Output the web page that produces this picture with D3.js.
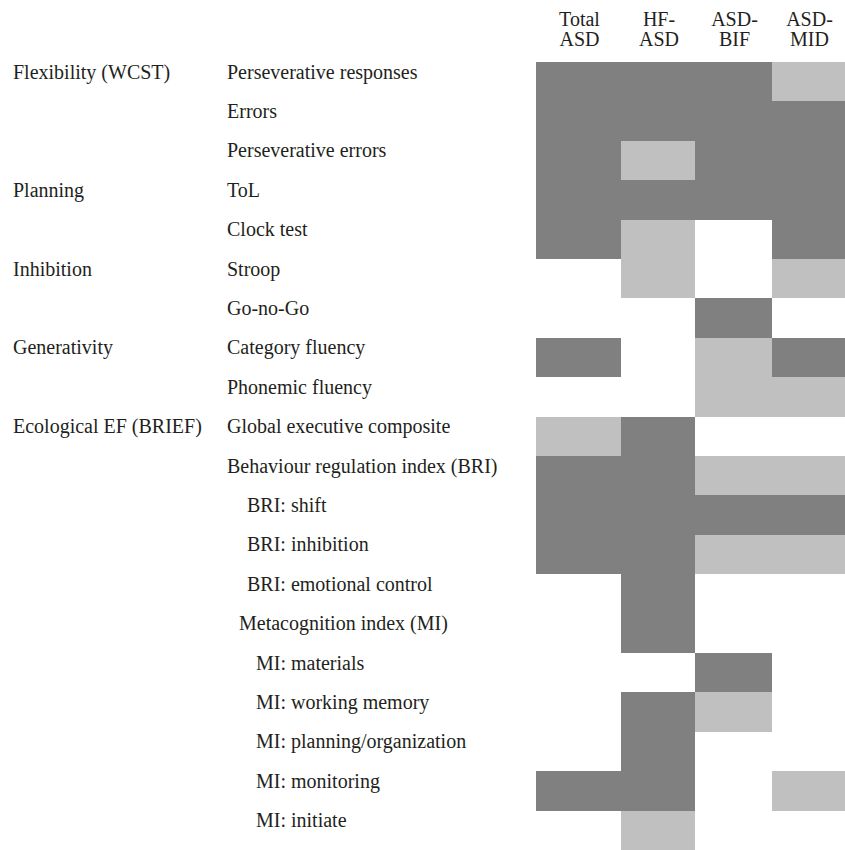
<!DOCTYPE html>
<html>
<head>
<meta charset="utf-8">
<script src="https://cdn.jsdelivr.net/npm/d3@7"></script>
<style>
  body { margin: 0; background: #fff; }
  svg { display: block; }
  text, tspan { font-family: "Liberation Serif", "Times New Roman", serif; font-size: 20px; fill: #231f20; }
  .cell { shape-rendering: crispEdges; }
</style>
</head>
<body>
<svg></svg>
<script>
const WIDTH = 845,
  HEIGHT = 850;

// column groups and their two-line headings
const groups = ["Total ASD", "HF-ASD", "ASD-BIF", "ASD-MID"];
const headerLines = [["Total", "ASD"], ["HF-", "ASD"], ["ASD-", "BIF"], ["ASD-", "MID"]];

// EF domains, each with the first measure it belongs to
const domains = [
  { name: "Flexibility (WCST)", first: "Perseverative responses" },
  { name: "Planning", first: "ToL" },
  { name: "Inhibition", first: "Stroop" },
  { name: "Generativity", first: "Category fluency" },
  { name: "Ecological EF (BRIEF)", first: "Global executive composite" }
];

const measures = [
  "Perseverative responses",
  "Errors",
  "Perseverative errors",
  "ToL",
  "Clock test",
  "Stroop",
  "Go-no-Go",
  "Category fluency",
  "Phonemic fluency",
  "Global executive composite",
  "Behaviour regulation index (BRI)",
  "BRI: shift",
  "BRI: inhibition",
  "BRI: emotional control",
  "Metacognition index (MI)",
  "MI: materials",
  "MI: working memory",
  "MI: planning/organization",
  "MI: monitoring",
  "MI: initiate"
];
// nesting level of each measure label
const levels = [0, 0, 0, 0, 0, 0, 0, 0, 0, 0, 0, 2, 2, 2, 1, 3, 3, 3, 3, 3];

// 0 = no difference, 1 = light grey, 2 = dark grey; order follows groups
const findings = [
  [2, 2, 2, 1],
  [2, 2, 2, 2],
  [2, 1, 2, 2],
  [2, 2, 2, 2],
  [2, 1, 0, 2],
  [0, 1, 0, 1],
  [0, 0, 2, 0],
  [2, 0, 1, 2],
  [0, 0, 1, 1],
  [1, 2, 0, 0],
  [2, 2, 1, 1],
  [2, 2, 2, 2],
  [2, 2, 1, 1],
  [0, 2, 0, 0],
  [0, 2, 0, 0],
  [0, 0, 2, 0],
  [0, 2, 1, 0],
  [0, 2, 0, 0],
  [2, 2, 0, 1],
  [0, 1, 0, 0]
];

// layout
const colEdges = [536, 621, 695, 772, 845];
const indentPx = [0, 12, 20, 29];
const domainX = 13,
  measureX = 227,
  gridTop = 62,
  gridBottom = 850,
  baselineOffset = 16.5;
const FONT = "'Liberation Serif', 'Times New Roman', serif";

const svg = d3
  .select("svg")
  .attr("width", WIDTH)
  .attr("height", HEIGHT)
  .attr("font-family", FONT)
  .attr("font-size", 20);

const x = d3.scaleOrdinal().domain(groups).range(colEdges.slice(0, -1));
const colWidth = g => colEdges[groups.indexOf(g) + 1] - x(g);
const y = d3.scaleBand().domain(measures).range([gridTop, gridBottom]).padding(0);
const fill = d3.scaleOrdinal().domain([1, 2]).range(["#c0c0c0", "#808080"]);

const cells = [];
findings.forEach((row, i) => {
  row.forEach((v, j) => {
    if (v > 0) cells.push({ measure: measures[i], group: groups[j], value: v });
  });
});

svg
  .append("g")
  .attr("class", "cells")
  .selectAll("rect")
  .data(cells)
  .enter()
  .append("rect")
  .attr("class", "cell")
  .attr("x", d => x(d.group))
  .attr("y", d => y(d.measure))
  .attr("width", d => colWidth(d.group))
  .attr("height", y.bandwidth())
  .attr("fill", d => fill(d.value));

// column headings, two lines each
const headerRows = [];
groups.forEach((g, i) => {
  headerLines[i].forEach((line, k) => headerRows.push({ group: g, line, k }));
});

svg
  .append("g")
  .attr("class", "header")
  .selectAll("text")
  .data(headerRows)
  .enter()
  .append("text")
  .attr("font-family", FONT)
  .attr("text-anchor", "middle")
  .attr("x", d => x(d.group) + colWidth(d.group) / 2 + 1)
  .attr("y", d => 25.5 + d.k * 20)
  .text(d => d.line);

// measure labels
svg
  .append("g")
  .attr("class", "measures")
  .selectAll("text")
  .data(measures)
  .enter()
  .append("text")
  .attr("x", (d, i) => measureX + indentPx[levels[i]])
  .attr("y", d => y(d) + baselineOffset)
  .text(d => d);

// domain labels
svg
  .append("g")
  .attr("class", "domains")
  .selectAll("text")
  .data(domains)
  .enter()
  .append("text")
  .attr("x", domainX)
  .attr("y", d => y(d.first) + baselineOffset)
  .text(d => d.name);
</script>
</body>
</html>
